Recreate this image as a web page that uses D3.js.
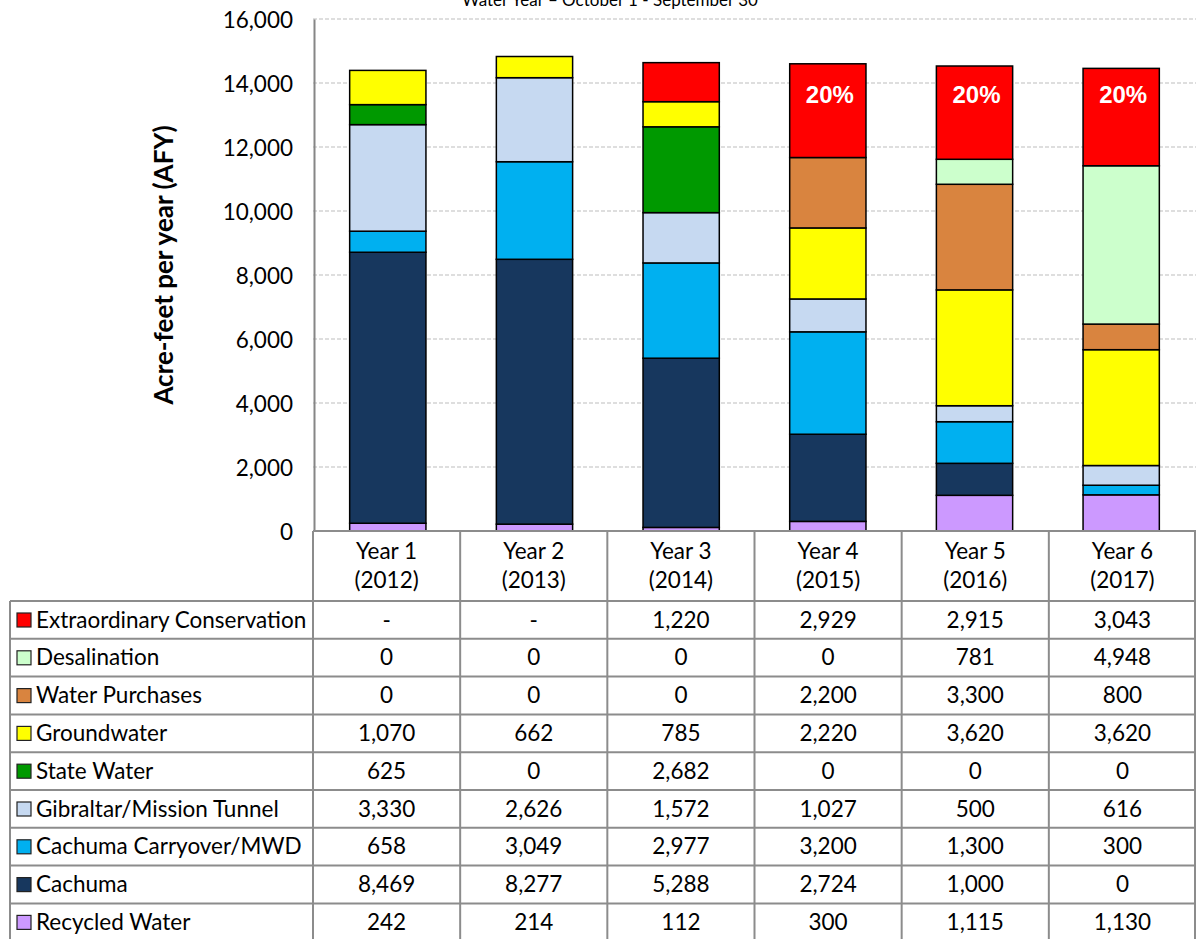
<!DOCTYPE html>
<html>
<head>
<meta charset="utf-8">
<script src="https://cdn.jsdelivr.net/npm/d3@7"></script>
<style>
  html, body { margin: 0; padding: 0; background: #fff; }
  svg { display: block; }
</style>
</head>
<body>
<svg id="chart" width="1196" height="939"></svg>
<script>
// ---------- DATA ----------
const years = ["Year 1", "Year 2", "Year 3", "Year 4", "Year 5", "Year 6"];
const yearSub = ["(2012)", "(2013)", "(2014)", "(2015)", "(2016)", "(2017)"];

// stacking order bottom -> top
const seriesNames = [
  "Recycled Water",
  "Cachuma",
  "Cachuma Carryover/MWD",
  "Gibraltar/Mission Tunnel",
  "State Water",
  "Groundwater",
  "Water Purchases",
  "Desalination",
  "Extraordinary Conservation"
];
const recycledWater = [242, 214, 112, 300, 1115, 1130];
const cachuma = [8469, 8277, 5288, 2724, 1000, 0];
const cachumaCarryover = [658, 3049, 2977, 3200, 1300, 300];
const gibraltar = [3330, 2626, 1572, 1027, 500, 616];
const stateWater = [625, 0, 2682, 0, 0, 0];
const groundwater = [1070, 662, 785, 2220, 3620, 3620];
const waterPurchases = [0, 0, 0, 2200, 3300, 800];
const desalination = [0, 0, 0, 0, 781, 4948];
const extraordinary = [null, null, 1220, 2929, 2915, 3043];
const conservationLabel = [null, null, null, "20%", "20%", "20%"];

const yTicks = [0, 2000, 4000, 6000, 8000, 10000, 12000, 14000, 16000];
const titleText = "Water Year \u2013 October 1 - September 30";
const yAxisTitle = "Acre-feet per year (AFY)";

const seriesValues = [recycledWater, cachuma, cachumaCarryover, gibraltar, stateWater,
  groundwater, waterPurchases, desalination, extraordinary];
const colors = ["#CC99FF", "#17375E", "#00B0F0", "#C6D9F1", "#009900",
  "#FFFF00", "#D9843F", "#CCFFCC", "#FF0000"];

// ---------- LAYOUT ----------
const svg = d3.select("#chart");
const plotLeft = 313, plotRight = 1196, plotTop = 19, plotBottom = 531;
const tableLeft = 10, headerBottom = 601, rowH = 37.8;
const FONT = "Lato, 'Open Sans', sans-serif";
const FS = 22.5;
const pctLabelLevel = 13375; // baseline level of the "20%" labels (axis units)

const x = d3.scaleBand().domain(years).range([plotLeft, plotRight])
  .paddingInner(0.48).paddingOuter(0.25);
const xCol = d3.scaleBand().domain(years).range([plotLeft, plotRight]).padding(0);
const y = d3.scaleLinear().domain([0, 16000]).range([plotBottom, plotTop]);

// gridlines
svg.append("g").selectAll("line").data(yTicks.filter(d => d > 0)).join("line")
  .attr("x1", plotLeft).attr("x2", plotRight)
  .attr("y1", d => y(d)).attr("y2", d => y(d))
  .attr("stroke", "#BDBDBD").attr("stroke-width", 1).attr("stroke-dasharray", "4,2");

// y axis
const yAxis = d3.axisLeft(y).tickValues(yTicks).tickSize(0).tickPadding(21)
  .tickFormat(d3.format(","));
const gy = svg.append("g").attr("transform", `translate(${plotLeft + 1},0)`).call(yAxis);
gy.select(".domain").attr("stroke", "#868686").attr("stroke-width", 2);
gy.selectAll("text").attr("font-family", FONT).attr("font-size", FS).attr("fill", "#000")
  .attr("dy", "0.36em");

// stacked data
const tableRows = years.map((yr, i) => {
  const o = { year: yr };
  seriesNames.forEach((s, k) => { o[s] = seriesValues[k][i] || 0; });
  return o;
});
const stacked = d3.stack().keys(seriesNames)(tableRows);

const layers = svg.append("g").selectAll("g").data(stacked).join("g")
  .attr("fill", (d, k) => colors[k]);
layers.selectAll("rect").data(d => d.filter(p => p[1] - p[0] > 0)).join("rect")
  .attr("x", p => x(p.data.year))
  .attr("width", x.bandwidth())
  .attr("y", p => y(p[1]))
  .attr("height", p => y(p[0]) - y(p[1]))
  .attr("stroke", "#000").attr("stroke-width", 1.5);

// 20% labels
svg.append("g").selectAll("text").data(years.filter((d, i) => conservationLabel[i]))
  .join("text")
  .attr("x", d => x(d) + x.bandwidth() / 2 + 2)
  .attr("y", y(pctLabelLevel))
  .attr("text-anchor", "middle")
  .attr("font-family", "'Liberation Sans', Arial, sans-serif")
  .attr("font-weight", "bold").attr("font-size", 24).attr("fill", "#fff")
  .text(d => conservationLabel[years.indexOf(d)]);

// title
svg.append("text").attr("x", 610).attr("y", 6).attr("text-anchor", "middle")
  .attr("font-family", FONT).attr("font-size", 17).attr("fill", "#000").text(titleText);

// y axis title
svg.append("text")
  .attr("transform", `translate(173,265) rotate(-90)`)
  .attr("text-anchor", "middle")
  .attr("font-family", FONT).attr("font-weight", "bold").attr("font-size", 26)
  .attr("fill", "#000").text(yAxisTitle);

// ---------- TABLE ----------
const grid = "#8C8C8C";
const tbl = svg.append("g");
const colEdges = years.map(d => xCol(d)).concat([plotRight - 1]);
tbl.selectAll("line.hv").data(colEdges).join("line").attr("class", "hv")
  .attr("x1", d => d).attr("x2", d => d).attr("y1", plotBottom).attr("y2", 939)
  .attr("stroke", grid).attr("stroke-width", 2);
tbl.append("line").attr("x1", plotLeft).attr("x2", plotRight).attr("y1", plotBottom).attr("y2", plotBottom)
  .attr("stroke", grid).attr("stroke-width", 2);
tbl.append("line").attr("x1", tableLeft).attr("x2", tableLeft).attr("y1", headerBottom).attr("y2", 939)
  .attr("stroke", grid).attr("stroke-width", 2);

const hdr = tbl.append("g").selectAll("text").data(years).join("text")
  .attr("x", d => xCol(d) + xCol.bandwidth() / 2)
  .attr("text-anchor", "middle").attr("font-family", FONT).attr("font-size", FS).attr("fill", "#000");
hdr.append("tspan").attr("x", d => xCol(d) + xCol.bandwidth() / 2).attr("y", 559).text(d => d);
hdr.append("tspan").attr("x", d => xCol(d) + xCol.bandwidth() / 2).attr("y", 588)
  .text((d, i) => yearSub[i]);

// rows listed top -> bottom (reverse of stack)
const rowOrder = d3.range(seriesNames.length).reverse();
const rowsG = tbl.append("g").selectAll("g").data(rowOrder).join("g")
  .attr("transform", (k, r) => `translate(0,${headerBottom + r * rowH})`);
rowsG.append("line").attr("x1", tableLeft).attr("x2", plotRight).attr("y1", 0).attr("y2", 0)
  .attr("stroke", grid).attr("stroke-width", 2);
rowsG.append("rect").attr("x", 17).attr("y", 12).attr("width", 14).attr("height", 14)
  .attr("fill", k => colors[k]).attr("stroke", "#222").attr("stroke-width", 1.2);
rowsG.append("text").attr("x", 36).attr("y", 26.5)
  .attr("font-family", FONT).attr("font-size", FS).attr("fill", "#000")
  .text(k => seriesNames[k]);
rowsG.each(function(k) {
  d3.select(this).selectAll("text.v").data(seriesValues[k]).join("text").attr("class", "v")
    .attr("x", (v, i) => xCol(years[i]) + xCol.bandwidth() / 2).attr("y", 26.5)
    .attr("text-anchor", "middle").attr("font-family", FONT).attr("font-size", FS).attr("fill", "#000")
    .text(v => v === null ? "-" : d3.format(",")(v));
});
</script>
</body>
</html>
